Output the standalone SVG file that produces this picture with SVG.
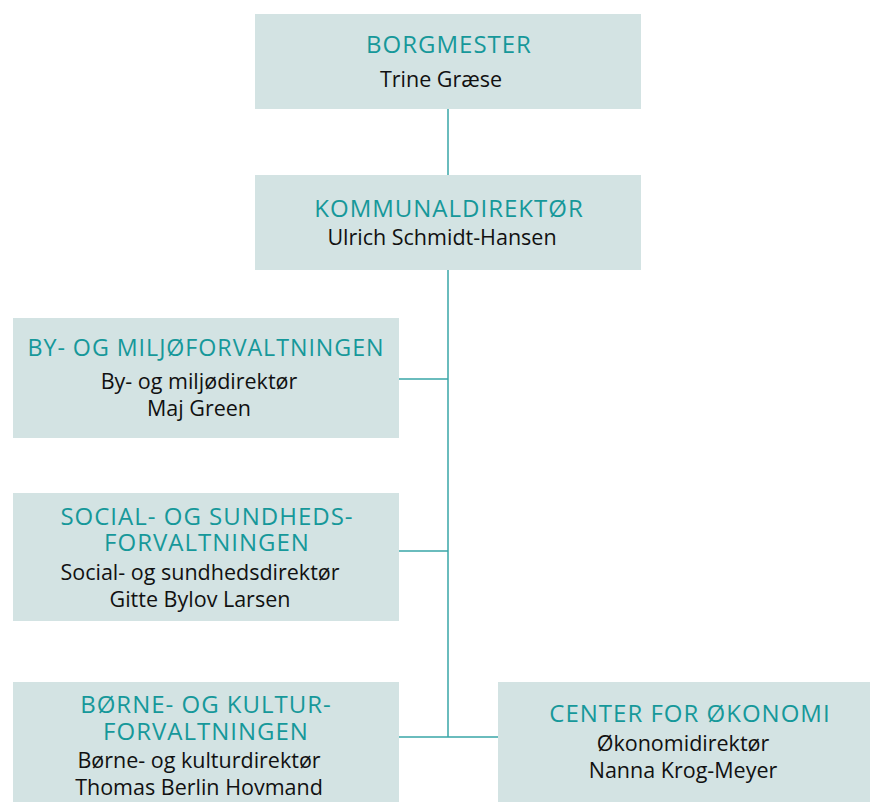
<svg xmlns="http://www.w3.org/2000/svg" width="870" height="802" viewBox="0 0 870 802">
<style>
.box{fill:#d3e3e3}
.t{font-family:"Open Sans","Noto Sans",sans-serif;font-size:24px;letter-spacing:1px;fill:#16989a;text-anchor:middle}
.b{font-family:"Open Sans","Noto Sans",sans-serif;font-size:21.5px;fill:#111;text-anchor:middle}
.c{stroke:#3aa6a8;stroke-width:1.5;fill:none}
</style>
<rect width="870" height="802" fill="#fff"/>
<g id="connectors">
<path class="c" d="M448 109V175M448 270V737M399 379H448M399 551H448M399 737H498"/>
</g>
<g id="borgmester">
<rect class="box" x="255" y="14" width="386" height="95"/>
<text class="t" x="449" y="53">BORGMESTER</text>
<text class="b" x="441" y="87">Trine Græse</text>
</g>
<g id="kommunaldirektor">
<rect class="box" x="255" y="175" width="386" height="95"/>
<text class="t" x="449" y="217">KOMMUNALDIREKTØR</text>
<text class="b" x="442" y="245">Ulrich Schmidt-Hansen</text>
</g>
<g id="by-miljo">
<rect class="box" x="13" y="318" width="386" height="120"/>
<text class="t" x="206" y="356" textLength="357" lengthAdjust="spacingAndGlyphs">BY- OG MILJØFORVALTNINGEN</text>
<text class="b" x="199" y="389">By- og miljødirektør</text>
<text class="b" x="199" y="416">Maj Green</text>
</g>
<g id="social-sundhed">
<rect class="box" x="13" y="493" width="386" height="128"/>
<text class="t" x="207" y="525">SOCIAL- OG SUNDHEDS-</text>
<text class="t" x="207" y="551">FORVALTNINGEN</text>
<text class="b" x="200" y="580">Social- og sundhedsdirektør</text>
<text class="b" x="200" y="607">Gitte Bylov Larsen</text>
</g>
<g id="borne-kultur">
<rect class="box" x="13" y="682" width="386" height="120"/>
<text class="t" x="206" y="713">BØRNE- OG KULTUR-</text>
<text class="t" x="206" y="740">FORVALTNINGEN</text>
<text class="b" x="199" y="768">Børne- og kulturdirektør</text>
<text class="b" x="199" y="795">Thomas Berlin Hovmand</text>
</g>
<g id="center-okonomi">
<rect class="box" x="498" y="682" width="372" height="120"/>
<text class="t" x="690" y="722">CENTER FOR ØKONOMI</text>
<text class="b" x="683" y="751">Økonomidirektør</text>
<text class="b" x="683" y="778">Nanna Krog-Meyer</text>
</g>
</svg>
